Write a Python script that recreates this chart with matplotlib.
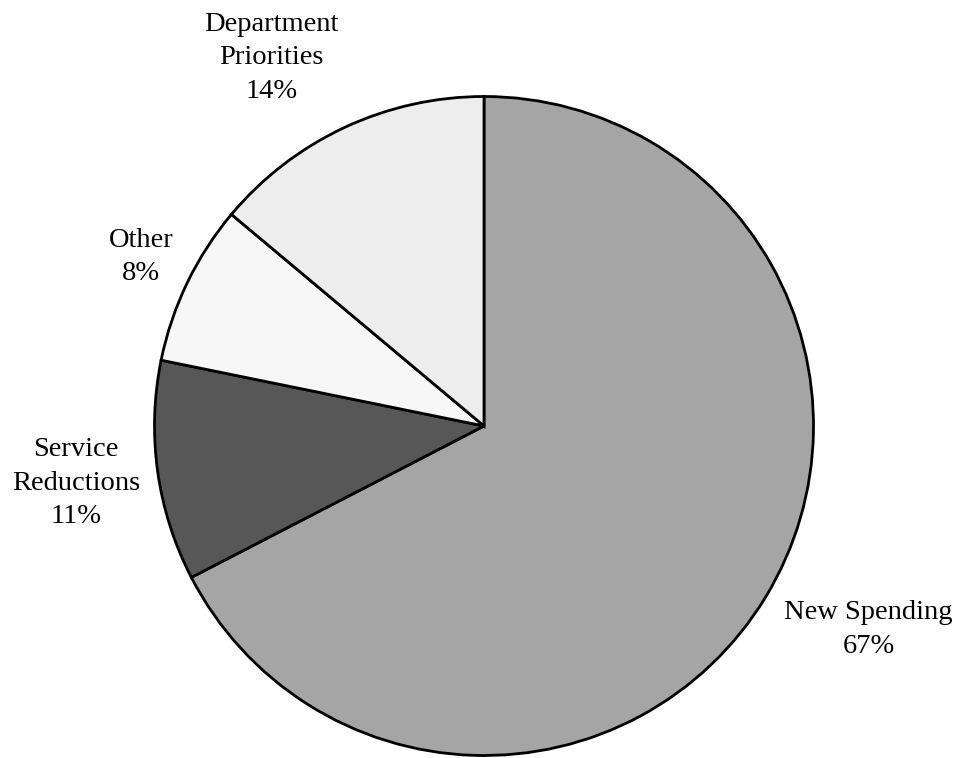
import numpy as np
import matplotlib
matplotlib.use("Agg")
import matplotlib.pyplot as plt

categories = ["New Spending", "Service Reductions", "Other", "Department Priorities"]
values = [67.4, 10.8, 7.9, 13.9]
label_texts = ["New Spending\n67%", "Service\nReductions\n11%", "Other\n8%", "Department\nPriorities\n14%"]
colors = ["#a5a5a5", "#575757", "#f7f7f7", "#ededed"]

# label placement (polar, relative to pie radius)
label_angles = [-27.9, 188.0, 153.8, 120.0]
label_radii = [1.32, 1.25, 1.16, 1.29]

plt.rcParams['font.family'] = ['Liberation Serif', 'DejaVu Serif']

fig = plt.figure(figsize=(9.57, 7.58), dpi=100)
ax = fig.add_axes([0, 0, 1, 1])
wedges, _ = ax.pie(values, colors=colors, startangle=90, counterclock=False,
                   radius=1, center=(0, 0),
                   wedgeprops=dict(edgecolor='black', linewidth=2.0))
for txt, ang, rad in zip(label_texts, label_angles, label_radii):
    a = np.deg2rad(ang)
    ax.text(rad * np.cos(a), rad * np.sin(a), txt, ha='center', va='center',
            fontsize=20.5, linespacing=1.44)

R = 329.5
ax.set_xlim(-484 / R, (957 - 484) / R)
ax.set_ylim(-332 / R, 426 / R)
ax.set_aspect('auto')
ax.axis('off')
fig.savefig("out.png", dpi=100)
